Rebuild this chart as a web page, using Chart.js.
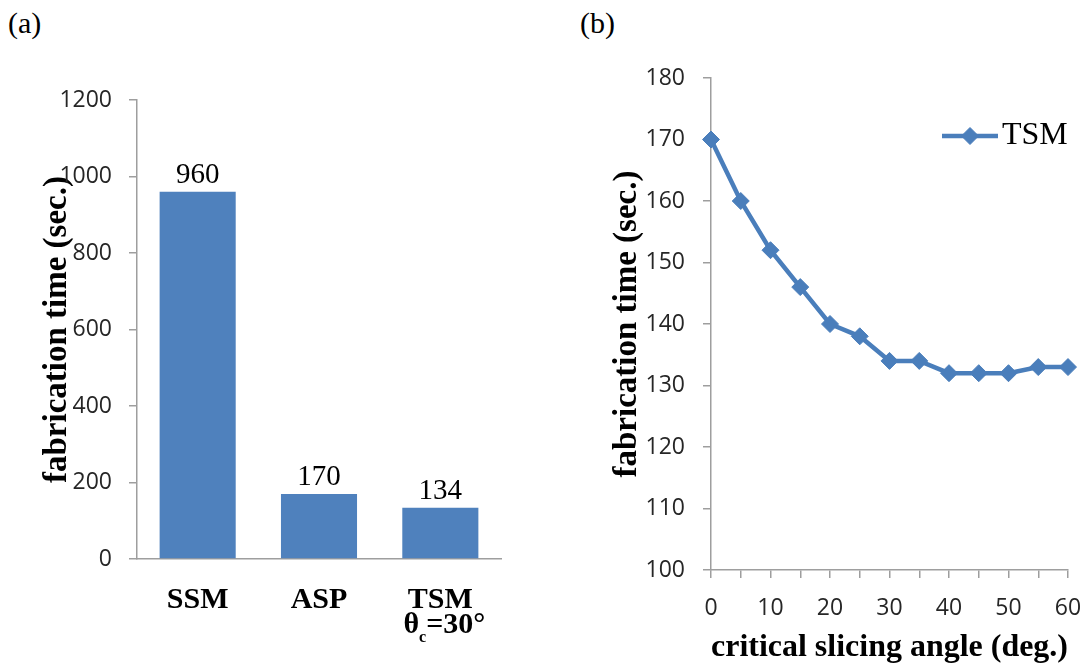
<!DOCTYPE html>
<html>
<head>
<meta charset="utf-8">
<title>Fabrication time</title>
<script src="https://cdn.jsdelivr.net/npm/chart.js@4.4.1/dist/chart.umd.min.js"></script>
<style>
  html, body { margin: 0; padding: 0; background: #fff; }
  body { width: 1083px; height: 664px; position: relative; overflow: hidden; }
  canvas { position: absolute; top: 0; }
  #chart-a { left: 0; }
  #chart-b { left: 560px; }
  .panel-tag { position: absolute; top: 8px; font: 30px "Liberation Serif", "Times New Roman", serif; line-height: 1; }
</style>
</head>
<body>
<div class="panel-tag" style="left:8px">(a)</div>
<div class="panel-tag" style="left:580px">(b)</div>
<canvas id="chart-a" width="560" height="664"></canvas>
<canvas id="chart-b" width="523" height="664"></canvas>
<script>
// (a) fabrication time per method
var barCategories = ['SSM', 'ASP', 'TSM'];
var barTimes = [960, 170, 134];
var barTicks = [0, 200, 400, 600, 800, 1000, 1200];
var tsmNote = ['θ', 'c', '=30°'];   // base, subscript, rest

// (b) fabrication time vs critical slicing angle
var angles = [0, 5, 10, 15, 20, 25, 30, 35, 40, 45, 50, 55, 60];
var tsmTimes = [170, 160, 152, 146, 140, 138, 134, 134, 132, 132, 132, 133, 133];
var angleTicks = [0, 5, 10, 15, 20, 25, 30, 35, 40, 45, 50, 55, 60];
var timeTicks = [100, 110, 120, 130, 140, 150, 160, 170, 180];

var SERIF = '"Liberation Serif", "Times New Roman", serif';
var SANS = '"Open Sans", Lato, sans-serif';
var AXIS = '#9e9e9e';
var TICK_TEXT = '#262626';
var BLUE = '#4F81BD';
var LINE_BLUE = '#4A7EBB';

function useTicks(list) {
    return function(scale) {
        scale.ticks = list.map(function(v) { return { value: v }; });
    };
}

function plainNumber(v) {
    return String(v);
}

// value labels above bars + the second line under "TSM"
var barExtras = {
    id: 'barExtras',
    afterDatasetsDraw: function(chart) {
        var ctx = chart.ctx;
        var meta = chart.getDatasetMeta(0);
        ctx.save();
        ctx.fillStyle = '#000';
        ctx.textAlign = 'center';
        ctx.textBaseline = 'alphabetic';
        ctx.font = '29px ' + SERIF;
        meta.data.forEach(function(bar, i) {
            ctx.fillText(String(barTimes[i]), bar.x, bar.y - 9);
        });
        ctx.restore();
    },
    afterDraw: function(chart) {
        var ctx = chart.ctx;
        var scale = chart.scales.x;
        var x = scale.getPixelForTick(2) + 4;
        var y = scale.top + 66;
        var big = 'bold 30px ' + SERIF;
        var small = 'bold 16px ' + SERIF;
        ctx.save();
        ctx.fillStyle = '#000';
        ctx.textAlign = 'left';
        ctx.textBaseline = 'middle';
        ctx.font = big;
        var w1 = ctx.measureText(tsmNote[0]).width;
        var w3 = ctx.measureText(tsmNote[2]).width;
        ctx.font = small;
        var w2 = ctx.measureText(tsmNote[1]).width;
        var start = x - (w1 + w2 + w3) / 2;
        ctx.font = big;
        ctx.fillText(tsmNote[0], start, y);
        ctx.fillText(tsmNote[2], start + w1 + w2, y);
        ctx.font = small;
        ctx.fillText(tsmNote[1], start + w1, y + 13);
        ctx.restore();
    }
};

// Excel-like legend: line with a diamond, then the series name
var lineLegend = {
    id: 'lineLegend',
    afterDraw: function(chart) {
        var ctx = chart.ctx;
        var area = chart.chartArea;
        var ds = chart.data.datasets[0];
        var y = area.top + 58;
        var x0 = area.right - 126;
        var x1 = area.right - 70;
        ctx.save();
        ctx.strokeStyle = ds.borderColor;
        ctx.lineWidth = ds.borderWidth;
        ctx.beginPath();
        ctx.moveTo(x0, y);
        ctx.lineTo(x1, y);
        ctx.stroke();
        ctx.fillStyle = ds.pointBackgroundColor;
        ctx.lineWidth = 1;
        Chart.helpers.drawPoint(ctx, { pointStyle: 'rectRot', radius: ds.pointRadius, borderWidth: 1, rotation: 0 }, (x0 + x1) / 2, y);
        ctx.fillStyle = '#000';
        ctx.font = '32px ' + SERIF;
        ctx.textAlign = 'left';
        ctx.textBaseline = 'middle';
        ctx.fillText(ds.label, area.right - 66, y);
        ctx.restore();
    }
};

new Chart(document.getElementById('chart-a'), {
    type: 'bar',
    data: {
        labels: barCategories,
        datasets: [{
            data: barTimes,
            backgroundColor: BLUE,
            barPercentage: 0.627,
            categoryPercentage: 1
        }]
    },
    options: {
        responsive: false,
        animation: false,
        layout: { padding: { left: 0, top: 100, right: 59, bottom: 0 } },
        plugins: { legend: { display: false }, tooltip: { enabled: false } },
        scales: {
            x: {
                grid: { display: false },
                border: { display: true, color: AXIS, width: 1.5 },
                ticks: {
                    padding: 15,
                    color: '#000',
                    maxRotation: 0,
                    autoSkip: false,
                    font: { family: SERIF, size: 30, weight: 'bold' }
                },
                afterFit: function(s) { s.height = 105; s.paddingLeft = 0; s.paddingRight = 0; }
            },
            y: {
                min: 0,
                max: 1200,
                afterBuildTicks: useTicks(barTicks),
                grid: { drawOnChartArea: false, drawTicks: true, tickLength: 8, color: AXIS, lineWidth: 1.5 },
                border: { display: true, color: AXIS, width: 1.5 },
                ticks: { padding: 17, color: TICK_TEXT, font: { family: SANS, size: 23 }, callback: plainNumber },
                title: {
                    display: true,
                    text: 'fabrication time (sec.)',
                    color: '#000',
                    font: { family: SERIF, size: 33, weight: 'bold' },
                    padding: { top: 38, bottom: 0 }
                },
                afterFit: function(s) { s.width = 137; s.paddingTop = 0; s.paddingBottom = 0; }
            }
        }
    },
    plugins: [barExtras]
});

new Chart(document.getElementById('chart-b'), {
    type: 'line',
    data: {
        datasets: [{
            label: 'TSM',
            data: angles.map(function(a, i) { return { x: a, y: tsmTimes[i] }; }),
            borderColor: LINE_BLUE,
            borderWidth: 4.5,
            pointStyle: 'rectRot',
            pointRadius: 8.5,
            pointBackgroundColor: LINE_BLUE,
            pointBorderColor: LINE_BLUE,
            pointBorderWidth: 1,
            tension: 0,
            clip: false
        }]
    },
    options: {
        responsive: false,
        animation: false,
        layout: { padding: { left: 0, top: 78, right: 15, bottom: 0 } },
        plugins: { legend: { display: false }, tooltip: { enabled: false } },
        scales: {
            x: {
                type: 'linear',
                min: 0,
                max: 60,
                afterBuildTicks: useTicks(angleTicks),
                grid: { drawOnChartArea: false, drawTicks: true, tickLength: 8, color: AXIS, lineWidth: 1.5 },
                border: { display: true, color: AXIS, width: 1.5 },
                ticks: {
                    padding: 17,
                    color: TICK_TEXT,
                    maxRotation: 0,
                    autoSkip: false,
                    font: { family: SANS, size: 23 },
                    callback: function(v) { return v % 10 === 0 ? String(v) : ''; }
                },
                title: {
                    display: true,
                    text: 'critical slicing angle (deg.)',
                    color: '#000',
                    font: { family: SERIF, size: 32, weight: 'bold', lineHeight: 1 },
                    padding: { top: 0, bottom: 0 }
                },
                afterFit: function(s) { s.height = 94; s.paddingLeft = 0; s.paddingRight = 0; }
            },
            y: {
                min: 100,
                max: 180,
                afterBuildTicks: useTicks(timeTicks),
                grid: { drawOnChartArea: false, drawTicks: true, tickLength: 8, color: AXIS, lineWidth: 1.5 },
                border: { display: true, color: AXIS, width: 1.5 },
                ticks: { padding: 18, color: TICK_TEXT, font: { family: SANS, size: 23 }, callback: plainNumber },
                title: {
                    display: true,
                    text: 'fabrication time (sec.)',
                    color: '#000',
                    font: { family: SERIF, size: 33, weight: 'bold' },
                    padding: { top: 48, bottom: 0 }
                },
                afterFit: function(s) { s.width = 151; s.paddingTop = 0; s.paddingBottom = 0; }
            }
        }
    },
    plugins: [lineLegend]
});
</script>
</body>
</html>
